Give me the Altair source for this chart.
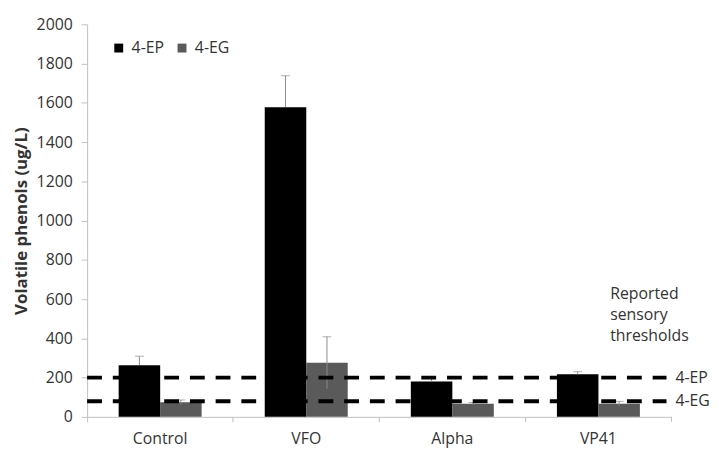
import altair as alt
import pandas as pd

groups = ["Control", "VFO", "Alpha", "VP41"]
series = ["4-EP", "4-EG"]
ep_values = [263, 1578, 180, 217]
ep_errors = [46, 160, 16, 13]
eg_values = [74, 276, 67, 67]
eg_errors = [12, 132, 6, 12]
thresholds = [200, 80]
threshold_labels = ["4-EP", "4-EG"]
y_ticks = list(range(0, 2001, 200))

rows = []
for g, v, e in zip(groups, ep_values, ep_errors):
    rows.append({"Group": g, "Series": "4-EP", "value": v, "lo": v, "hi": v + e})
for g, v, e in zip(groups, eg_values, eg_errors):
    rows.append({"Group": g, "Series": "4-EG", "value": v, "lo": v - e, "hi": v + e})
df = pd.DataFrame(rows)
thr = pd.DataFrame({"t": thresholds, "label": threshold_labels})

FONT = "Open Sans"
TXT = "#333333"
YTITLE = "Volatile phenols (ug/L)"

xaxis = alt.Axis(bandPosition=0, labelAngle=0, labelFontSize=16, labelFont=FONT,
                 labelColor=TXT, domainColor="#bfbfbf", tickColor="#bfbfbf",
                 tickSize=5, labelPadding=9, grid=False)
xscale = alt.Scale(paddingInner=0, paddingOuter=0)
yaxis = alt.Axis(values=y_ticks, format="d", labelOverlap=False,
                 labelFontSize=16, labelFont=FONT, labelColor=TXT,
                 domainColor="#bfbfbf", tickColor="#bfbfbf", tickSize=6,
                 labelPadding=9, grid=False, titleFont=FONT, titleFontSize=17,
                 titleFontWeight="bold", titleColor=TXT, titlePadding=6)
yscale = alt.Scale(domain=[0, 2000], nice=False)


def X():
    return alt.X("Group:N", sort=groups, title=None, scale=xscale, axis=xaxis)


def Y(field):
    return alt.Y(field, title=YTITLE, scale=yscale, axis=yaxis)


xo = alt.XOffset("Series:N", sort=series,
                 scale=alt.Scale(paddingInner=0, paddingOuter=0.762))

base = alt.Chart(df)

bars = base.mark_bar(size=42).encode(
    x=X(), xOffset=xo, y=Y("value:Q"),
    color=alt.Color("Series:N", sort=series,
                    scale=alt.Scale(domain=series, range=["#000000", "#5a5a5a"]),
                    legend=alt.Legend(title=None, orient="none", legendX=24, legendY=16,
                                      direction="horizontal", symbolType="square",
                                      symbolSize=81, symbolStrokeWidth=0,
                                      labelFontSize=16, labelFont=FONT, labelColor=TXT,
                                      columnPadding=10, labelOffset=5)),
)

err = base.mark_rule(color="#8c8c8c", strokeWidth=1).encode(
    x=X(), xOffset=xo, y=Y("lo:Q"), y2="hi:Q",
)
caps = base.mark_tick(color="#8c8c8c", thickness=1, size=9).encode(
    x=X(), xOffset=xo, y=Y("hi:Q"),
)

lines = alt.Chart(thr).mark_rule(color="#000000", strokeWidth=4, strokeDash=[15, 11]).encode(
    y=Y("t:Q"), x=alt.value(0), x2=alt.value(586),
)
line_labels = alt.Chart(thr).mark_text(align="left", baseline="middle", font=FONT,
                                       fontSize=16, color=TXT).encode(
    y=Y("t:Q"), x=alt.value(595), text="label:N",
)

note = alt.Chart(pd.DataFrame({"a": [0]})).mark_text(
    align="left", baseline="middle", font=FONT, fontSize=16, color=TXT, lineHeight=21,
    text=["Reported", "sensory", "thresholds"],
).encode(x=alt.value(529), y=alt.value(273))

last_tick = alt.Chart(pd.DataFrame({"a": [0]})).mark_rule(color="#bfbfbf").encode(
    x=alt.value(591), y=alt.value(397), y2=alt.value(402),
)

chart = alt.layer(bars, err, caps, lines, line_labels, note, last_tick).properties(
    width=591, height=397,
    background="white",
    autosize=alt.AutoSizeParams(type="none"),
    padding={"left": 80, "top": 14, "right": 40, "bottom": 30},
).configure_view(stroke=None)

chart.save("out.html", embed_options={"renderer": "svg", "actions": False})
